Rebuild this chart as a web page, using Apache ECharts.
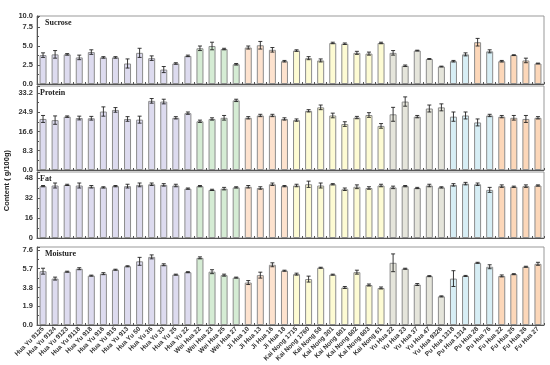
<!DOCTYPE html>
<html><head><meta charset="utf-8">
<script src="https://cdn.jsdelivr.net/npm/echarts@6/dist/echarts.min.js"></script>
<style>html,body{margin:0;padding:0;background:#fff}#c{width:550px;height:365px}</style>
</head><body><div id="c"></div>
<script>
const groups = [
  {names:['Hua Yu 9125','Hua Yu 9124','Hua Yu 9123','Hua Yu 9118','Hua Yu 918','Hua Yu 916','Hua Yu 915','Hua Yu 913','Hua Yu 50','Hua Yu 36','Hua Yu 33','Hua Yu 25','Hua Yu 22'], color:'#dddbef'},
  {names:['Wei Hua 22','Wei Hua 23','Wei Hua 25','Wei Hua 27'], color:'#d5ecd4'},
  {names:['Ji Hua 10','Ji Hua 13','Ji Hua 16','Ji Hua 18'], color:'#fde2ce'},
  {names:['Kai Nong 1715','Kai Nong 1760','Kai Nong 58','Kai Nong 301','Kai Nong 601','Kai Nong 602','Kai Nong 603','Kai Nong 61'], color:'#fdfbd3'},
  {names:['Yu Hua 22','Yu Hua 23','Yu Hua 37','Yu Hua 47','Yu Hua 9326'], color:'#e5e5db'},
  {names:['Pu Hua 1318','Pu Hua 1314','Pu Hua 28','Pu Hua 76'], color:'#d7eef5'},
  {names:['Fu Hua 22','Fu Hua 25','Fu Hua 26','Fu Hua 27'], color:'#fcd7b9'}
];
const categories = [];
const catColors = [];
groups.forEach(g => g.names.forEach(n => { categories.push(n); catColors.push(g.color); }));

const sucrose = [3.8,3.9,3.9,3.5,4.2,3.5,3.5,2.7,4.1,3.4,1.9,2.7,3.7,4.7,5.0,4.6,2.6,4.8,5.1,4.5,3.0,4.4,3.4,3.1,5.4,5.3,4.1,4.0,5.4,4.1,2.4,4.4,3.3,2.3,3.0,3.9,5.5,4.3,3.0,3.8,3.1,2.7];
const sucroseErr = [0.3,0.5,0.1,0.3,0.3,0.1,0.1,0.6,0.6,0.3,0.4,0.1,0.1,0.3,0.5,0.1,0.1,0.2,0.5,0.3,0.1,0.1,0.2,0.2,0.1,0.1,0.2,0.2,0.1,0.3,0.1,0.05,0.05,0.05,0.1,0.2,0.5,0.2,0.1,0.05,0.3,0.05];
const protein = [22.0,21.5,23.0,22.4,22.3,25.2,25.9,22.0,21.7,29.8,29.5,22.5,24.5,21.0,22.0,22.5,30.0,22.5,23.5,23.5,22.0,21.5,25.5,27.0,23.5,19.8,22.6,23.7,19.0,24.0,29.5,23.0,26.5,27.0,23.0,23.5,20.5,23.5,23.0,22.5,22.0,22.5];
const proteinErr = [1.5,1.8,0.3,0.8,0.8,2.0,1.0,1.0,1.5,1.0,1.0,0.5,0.5,0.5,0.5,1.0,0.5,0.5,0.5,0.5,0.5,0.5,0.5,1.0,1.0,1.0,0.5,1.0,1.0,3.0,2.0,0.5,1.5,1.5,2.0,1.5,1.5,0.5,0.5,1.0,1.5,0.5];
const fat = [41.5,42,42.5,42,41,40.5,41.5,41.5,42.5,43,42.5,42,39.5,41.5,38.5,39.5,40.5,41,40,43,41.5,42,43,42,43,39,41,40,42,40.5,41.5,40,42,40.5,42.5,43.5,43,38.5,41.5,41,41.5,42];
const fatErr = [0.5,2,0.5,2,1,0.5,0.5,1.5,1.5,1,1,1,0.5,0.5,0.5,1,0.5,1,1,1,0.5,1,2.5,2,0.5,1,1.5,1,1,1,0.5,0.5,1,0.5,1,1,1,2,1,0.5,1,0.5];
const moisture = [5.45,4.7,5.4,5.7,5.0,5.2,5.6,5.95,6.45,6.9,6.1,5.1,5.35,6.8,5.4,5.05,4.8,4.3,5.05,6.1,5.5,5.15,4.65,5.8,5.1,3.8,5.35,4.05,3.75,6.3,5.7,4.1,4.95,2.9,4.7,4.97,6.3,5.9,4.97,5.15,5.9,6.2];
const moistureErr = [0.3,0.15,0.05,0.1,0.05,0.1,0.05,0.05,0.4,0.2,0.1,0.05,0.05,0.1,0.2,0.1,0.05,0.2,0.3,0.2,0.05,0.1,0.3,0.05,0.05,0.1,0.2,0.1,0.1,0.9,0.05,0.1,0.05,0.05,0.8,0.05,0.05,0.2,0.1,0.05,0.05,0.15];

const sucroseTicks = ['0.0','2.5','5.0','7.5','10.0'];
const proteinTicks = ['0.0','8.3','16.6','24.9','33.2'];
const fatTicks = ['0','16','32','48'];
const moistureTicks = ['0.0','1.9','3.8','5.7','7.6'];

const panels = [
  {title:'Sucrose', vals:sucrose, errs:sucroseErr, ticks:sucroseTicks, top:16, height:68, max:8.95, interval:2.5, showMax:true, override:{36:'#fcd7b9'}},
  {title:'Protein', vals:protein, errs:proteinErr, ticks:proteinTicks, top:86, height:84, max:36.2, interval:8.3, showMax:false},
  {title:'Fat', vals:fat, errs:fatErr, ticks:fatTicks, top:172, height:66, max:52.8, interval:16, showMax:false},
  {title:'Moisture', vals:moisture, errs:moistureErr, ticks:moistureTicks, top:247, height:78, max:7.9, interval:1.9, showMax:false}
];

const grid=[], xAxis=[], yAxis=[], series=[], graphic=[];
panels.forEach((p,k)=>{
  const last = k===panels.length-1;
  grid.push({left:37, right:6, top:p.top, height:p.height, show:true, borderColor:'#999', borderWidth:1, backgroundColor:'transparent'});
  xAxis.push({type:'category', gridIndex:k, data:categories, boundaryGap:true,
    axisLine:{lineStyle:{color:'#555', width:1}},
    axisTick:{show:true, inside:true, length:2, interval:0, lineStyle:{color:'#555'}},
    axisLabel:{show:last, interval:0, rotate:45, fontSize:6.5, fontWeight:'bold', color:'#333', fontFamily:'Liberation Sans', margin:3}
  });
  yAxis.push({type:'value', gridIndex:k, min:0, max:p.max, interval:p.interval,
    axisLine:{show:true, lineStyle:{color:'#555'}},
    axisTick:{show:true, inside:true, length:3, lineStyle:{color:'#555'}},
    minorTick:{show:true, splitNumber:2, length:2, lineStyle:{color:'#555'}},
    splitLine:{show:false},
    axisLabel:{fontSize:7.5, fontWeight:'bold', color:'#333', fontFamily:'Liberation Sans', margin:4, showMaxLabel:p.showMax,
      formatter:(v,i)=> p.ticks[i]!==undefined ? p.ticks[i] : ''}
  });
  series.push({type:'bar', xAxisIndex:k, yAxisIndex:k, barWidth:7,
    data:p.vals.map((v,i)=>({value:v, itemStyle:{color:(p.override&&p.override[i])||catColors[i], borderColor:'#8c8c8c', borderWidth:1}})),
    silent:true, animation:false});
  series.push({type:'custom', xAxisIndex:k, yAxisIndex:k, silent:true, animation:false,
    data:p.vals.map((v,i)=>[i, v, p.errs[i]]),
    renderItem:(params, api)=>{
      const i=api.value(0), v=api.value(1), e=api.value(2);
      const hi=api.coord([i, v+e]), lo=api.coord([i, v-e]);
      const w=2;
      const st={stroke:'#222', lineWidth:0.9};
      return {type:'group', children:[
        {type:'line', shape:{x1:hi[0],y1:hi[1],x2:lo[0],y2:lo[1]}, style:st},
        {type:'line', shape:{x1:hi[0]-w,y1:hi[1],x2:hi[0]+w,y2:hi[1]}, style:st},
        {type:'line', shape:{x1:lo[0]-w,y1:lo[1],x2:lo[0]+w,y2:lo[1]}, style:st}
      ]};
    }, z:5});
  graphic.push({type:'text', left: p.title==='Protein'||p.title==='Fat'?40:45, top:p.top+3,
    style:{text:p.title, font:'bold 8px "Liberation Serif"', fill:'#222'}});
});
graphic.push({type:'text', left:3, top:150, rotation:Math.PI/2,
  style:{text:'Content ( g/100g)', font:'bold 7.5px "Liberation Sans"', fill:'#222'}});

const chart = echarts.init(document.getElementById('c'), null, {renderer:'canvas'});
chart.setOption({animation:false, grid, xAxis, yAxis, series, graphic});
</script></body></html>
